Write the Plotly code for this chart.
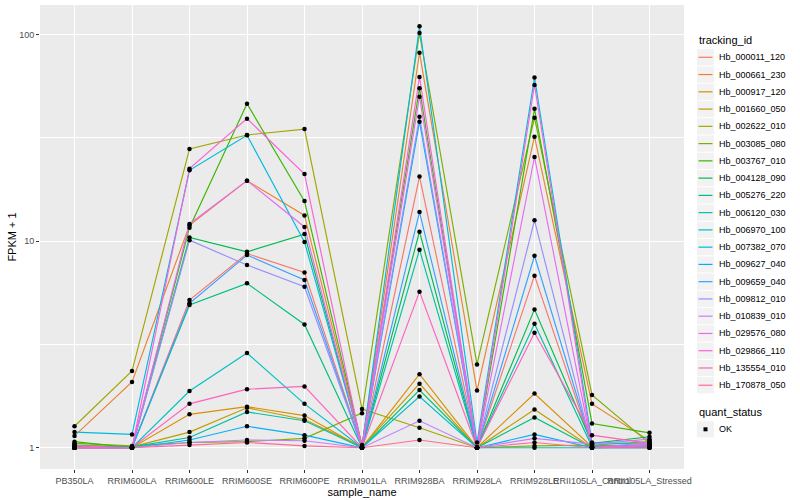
import plotly.graph_objects as go

samples = ["PB350LA", "RRIM600LA", "RRIM600LE", "RRIM600SE", "RRIM600PE", "RRIM901LA",
           "RRIM928BA", "RRIM928LA", "RRIM928LE", "RRII105LA_Control", "RRII105LA_Stressed"]

tracking_ids = ["Hb_000011_120", "Hb_000661_230", "Hb_000917_120", "Hb_001660_050",
                "Hb_002622_010", "Hb_003085_080", "Hb_003767_010", "Hb_004128_090",
                "Hb_005276_220", "Hb_006120_030", "Hb_006970_100", "Hb_007382_070",
                "Hb_009627_040", "Hb_009659_040", "Hb_009812_010", "Hb_010839_010",
                "Hb_029576_080", "Hb_029866_110", "Hb_135554_010", "Hb_170878_050"]

colors = ["#F8766D", "#EA8331", "#D89000", "#C09B00", "#A3A500", "#7CAE00", "#39B600",
          "#00BB4E", "#00BF7D", "#00C1A3", "#00BFC4", "#00BAE0", "#00B0F6", "#35A2FF",
          "#9590FF", "#C77CFF", "#E76BF3", "#FA62DB", "#FF62BC", "#FF6C91"]

# FPKM + 1 per sample (same order as samples)
hb_000011_120 = [1.02, 1.00, 5.18, 8.70, 7.05, 1.00, 20.5, 1.00, 6.80, 1.02, 1.03]
hb_000661_230 = [1.14, 2.08, 11.9, 19.6, 13.3, 1.02, 81.5, 1.89, 32.0, 1.63, 1.08]
hb_000917_120 = [1.01, 1.00, 1.45, 1.58, 1.43, 1.00, 2.27, 1.00, 1.83, 1.01, 1.02]
hb_001660_050 = [1.03, 1.01, 1.19, 1.56, 1.37, 1.01, 2.04, 1.00, 1.53, 1.00, 1.01]
hb_002622_010 = [1.27, 2.35, 27.9, 32.6, 34.8, 1.54, 1.25, 1.00, 1.02, 1.03, 1.07]
hb_003085_080 = [1.05, 1.02, 1.06, 1.07, 1.11, 1.47, 101.4, 2.53, 39.5, 1.80, 1.05]
hb_003767_010 = [1.07, 1.00, 11.6, 46.2, 15.6, 1.03, 54.8, 1.00, 43.6, 1.31, 1.18]
hb_004128_090 = [1.00, 1.00, 10.4, 8.87, 10.8, 1.00, 11.1, 1.00, 4.67, 1.05, 1.13]
hb_005276_220 = [1.01, 1.00, 4.90, 6.24, 3.95, 1.00, 1.90, 1.00, 1.40, 1.00, 1.00]
hb_006120_030 = [1.02, 1.01, 1.12, 1.49, 1.35, 1.00, 9.08, 1.00, 3.98, 1.01, 1.02]
hb_006970_100 = [1.00, 1.00, 1.88, 2.87, 1.63, 1.00, 1.77, 1.00, 1.00, 1.00, 1.01]
hb_007382_070 = [1.19, 1.16, 22.0, 32.5, 9.90, 1.01, 109.3, 1.06, 61.9, 1.06, 1.04]
hb_009627_040 = [1.00, 1.00, 1.09, 1.27, 1.15, 1.00, 37.8, 1.00, 1.16, 1.00, 1.00]
hb_009659_040 = [1.00, 1.00, 5.00, 8.55, 6.48, 1.00, 13.8, 1.00, 8.49, 1.02, 1.03]
hb_009812_010 = [1.00, 1.00, 10.1, 7.65, 6.01, 1.00, 39.9, 1.00, 12.6, 1.00, 1.06]
hb_010839_010 = [1.00, 1.00, 1.06, 1.09, 1.08, 1.00, 1.35, 1.00, 1.11, 1.04, 1.10]
hb_029576_080 = [1.02, 1.00, 12.1, 19.6, 11.7, 1.00, 49.9, 1.00, 25.5, 1.00, 1.03]
hb_029866_110 = [1.00, 1.00, 22.4, 39.1, 21.1, 1.00, 62.1, 1.00, 56.9, 1.00, 1.02]
hb_135554_010 = [1.00, 1.00, 1.63, 1.92, 1.98, 1.00, 5.69, 1.00, 3.60, 1.15, 1.05]
hb_170878_050 = [1.00, 1.00, 1.03, 1.06, 1.02, 1.00, 1.09, 1.00, 1.06, 1.00, 1.00]

series = [hb_000011_120, hb_000661_230, hb_000917_120, hb_001660_050, hb_002622_010,
          hb_003085_080, hb_003767_010, hb_004128_090, hb_005276_220, hb_006120_030,
          hb_006970_100, hb_007382_070, hb_009627_040, hb_009659_040, hb_009812_010,
          hb_010839_010, hb_029576_080, hb_029866_110, hb_135554_010, hb_170878_050]

quant_status = ["OK"]

y_ticks = [1, 10, 100]
y_minor = [3.1623, 31.623]

FONT = "Liberation Sans, Arial, Helvetica, sans-serif"
W, H = 800, 500
ML, MR, MT, MB = 40, 116, 5, 31
PW, PH = W - ML - MR, H - MT - MB


def px_x(px):
    return (px - ML) / PW


def px_y(py):
    return (H - MB - py) / PH


fig = go.Figure()
for name, vals, col in zip(tracking_ids, series, colors):
    fig.add_trace(go.Scatter(x=samples, y=vals, mode="lines", name=name,
                             line=dict(color=col, width=1.15), showlegend=False,
                             hoverinfo="x+y+name"))

all_x = [s for vals in series for s in samples]
all_y = [v for vals in series for v in vals]
fig.add_trace(go.Scatter(x=all_x, y=all_y, mode="markers", name=quant_status[0],
                         marker=dict(color="black", size=4.5, symbol="circle"),
                         showlegend=False))

# ggplot-style legend drawn in paper space
shapes, annots = [], []
KEY_L, KEY_R, KEY = 697, 714, 17.26
TXT_X = 717
annots.append(dict(text="tracking_id", x=px_x(KEY_L), y=px_y(40), xref="paper", yref="paper",
                   xanchor="left", yanchor="middle", showarrow=False,
                   font=dict(size=11, color="black", family=FONT)))
for i, (name, col) in enumerate(zip(tracking_ids, colors)):
    cy = 57.3 + i * KEY
    shapes.append(dict(type="rect", xref="paper", yref="paper",
                       x0=px_x(KEY_L), x1=px_x(KEY_R), y0=px_y(cy - KEY / 2 + 0.5), y1=px_y(cy + KEY / 2 - 0.5),
                       fillcolor="#F2F2F2", line=dict(width=0), layer="below"))
    shapes.append(dict(type="line", xref="paper", yref="paper",
                       x0=px_x(KEY_L + 1.5), x1=px_x(KEY_R - 1.5), y0=px_y(cy), y1=px_y(cy),
                       line=dict(color=col, width=1.2)))
    annots.append(dict(text=name, x=px_x(TXT_X), y=px_y(cy), xref="paper", yref="paper",
                       xanchor="left", yanchor="middle", showarrow=False,
                       font=dict(size=9, color="black", family=FONT)))

annots.append(dict(text="quant_status", x=px_x(KEY_L), y=px_y(411.7), xref="paper", yref="paper",
                   xanchor="left", yanchor="middle", showarrow=False,
                   font=dict(size=11, color="black", family=FONT)))
cy = 429.3
shapes.append(dict(type="rect", xref="paper", yref="paper",
                   x0=px_x(KEY_L), x1=px_x(KEY_R), y0=px_y(cy - KEY / 2 + 0.5), y1=px_y(cy + KEY / 2 - 0.5),
                   fillcolor="#F2F2F2", line=dict(width=0), layer="below"))
shapes.append(dict(type="rect", xref="paper", yref="paper",
                   x0=px_x(KEY_L + (KEY_R - KEY_L) / 2 - 2), x1=px_x(KEY_L + (KEY_R - KEY_L) / 2 + 2),
                   y0=px_y(cy - 2), y1=px_y(cy + 2),
                   fillcolor="black", line=dict(width=0)))
annots.append(dict(text=quant_status[0], x=px_x(TXT_X), y=px_y(cy), xref="paper", yref="paper",
                   xanchor="left", yanchor="middle", showarrow=False,
                   font=dict(size=9, color="black", family=FONT)))

fig.update_layout(
    width=W, height=H,
    margin=dict(l=ML, r=MR, t=MT, b=MB, autoexpand=False),
    paper_bgcolor="white", plot_bgcolor="#EBEBEB",
    font=dict(family=FONT, size=9, color="#4D4D4D"),
    showlegend=False,
    shapes=shapes, annotations=annots,
    xaxis=dict(type="category", categoryorder="array", categoryarray=samples,
               range=[-0.6, 10.6], showgrid=True, gridcolor="white", gridwidth=1.1,
               ticks="outside", ticklen=3, tickcolor="#333333", tickwidth=1, tickangle=0,
               tickfont=dict(size=9, color="#4D4D4D"), zeroline=False, showline=False,
               automargin=False,
               title=dict(text="sample_name", font=dict(size=11, color="black"), standoff=3)),
    yaxis=dict(type="log", range=[-0.103, 2.142], tickvals=y_ticks,
               ticktext=[str(t) for t in y_ticks],
               showgrid=True, gridcolor="white", gridwidth=1.1,
               minor=dict(tickvals=y_minor, showgrid=True, gridcolor="white", gridwidth=0.5, ticks=""),
               ticks="outside", ticklen=3, tickcolor="#333333", tickwidth=1,
               tickfont=dict(size=9, color="#4D4D4D"), zeroline=False, showline=False,
               automargin=False,
               title=dict(text="FPKM + 1", font=dict(size=11, color="black"), standoff=0)),
)

fig.write_html("out.html", config={"displayModeBar": False},
               post_script="document.body.style.margin='0';document.body.style.padding='0';"
                           "document.body.style.overflow='hidden';")
